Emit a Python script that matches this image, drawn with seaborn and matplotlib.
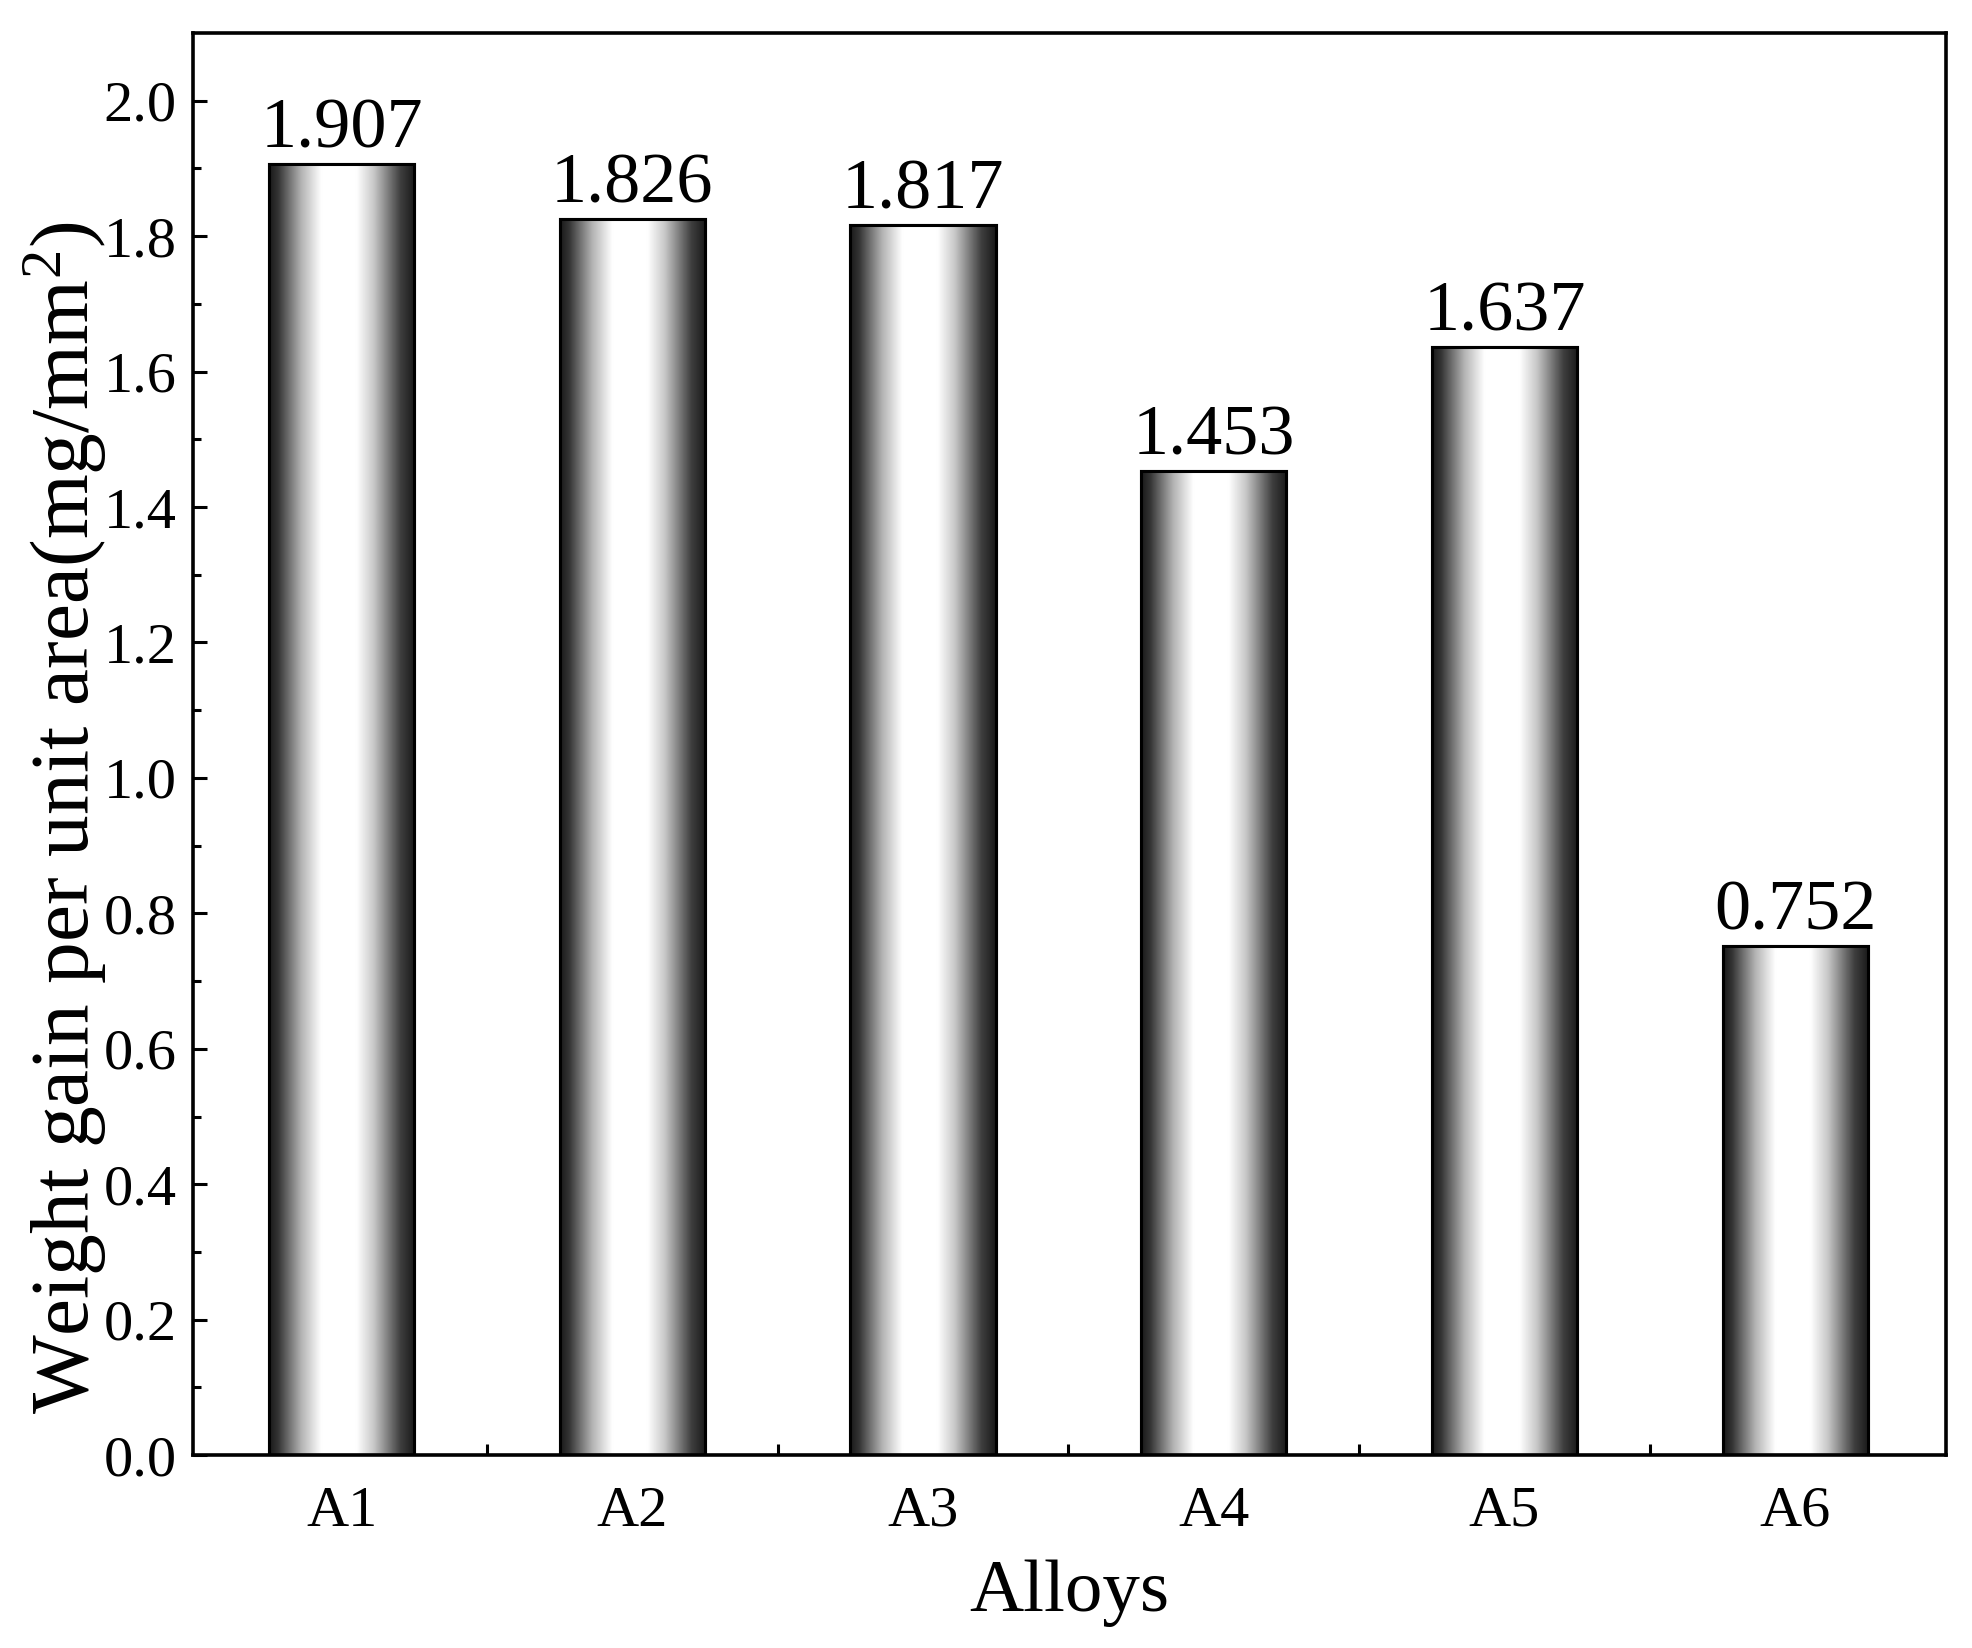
import numpy as np
import matplotlib as mpl
mpl.use("Agg")
import matplotlib.pyplot as plt
import seaborn as sns
import pandas as pd

# data
alloys = ["A1", "A2", "A3", "A4", "A5", "A6"]
weight_gain = [1.907, 1.826, 1.817, 1.453, 1.637, 0.752]

sns.set_style("ticks")
plt.rcParams["font.family"] = ["Liberation Serif", "DejaVu Serif"]
plt.rcParams["mathtext.default"] = "regular"
plt.rcParams["text.color"] = "black"
plt.rcParams["axes.labelcolor"] = "black"
plt.rcParams["xtick.color"] = "black"
plt.rcParams["ytick.color"] = "black"

df = pd.DataFrame({"alloy": alloys, "gain": weight_gain})

fig = plt.figure(figsize=(19.72, 16.48), dpi=100)
ax = fig.add_axes([0.098, 0.117, 0.889, 0.863])

sns.barplot(data=df, x="alloy", y="gain", order=alloys, color="white",
            width=0.5, edgecolor="black", linewidth=2.2, saturation=1, ax=ax)

# metallic gradient fill clipped to each bar
t = np.linspace(0, 1, 256)
profile = np.interp(t, [0, 0.06, 0.22, 0.36, 0.6, 0.72, 0.9, 1.0],
                    [0.1, 0.2, 0.7, 1.0, 1.0, 0.78, 0.25, 0.1])
grad = profile[np.newaxis, :]
for p in ax.patches:
    x0, y0 = p.get_x(), p.get_y()
    w, h = p.get_width(), p.get_height()
    im = ax.imshow(grad, extent=[x0, x0 + w, y0, y0 + h], aspect="auto",
                   cmap="gray", vmin=0, vmax=1, zorder=p.get_zorder() + 0.1,
                   interpolation="bicubic")
    im.set_clip_path(p)
    # redraw outline on top
    ax.add_patch(mpl.patches.Rectangle((x0, y0), w, h, fill=False,
                                       edgecolor="black", linewidth=2.2,
                                       zorder=p.get_zorder() + 0.2))

ax.bar_label(ax.containers[0], fmt="%.3f", padding=1, fontsize=52, color="black")

ax.set_xlim(-0.51, 5.52)
ax.set_ylim(0, 2.1)
ax.set_yticks(np.arange(0, 2.01, 0.2))
ax.set_yticks(np.arange(0, 2.1, 0.1), minor=True)
ax.yaxis.set_major_formatter(mpl.ticker.FormatStrFormatter("%.1f"))

# category labels without ticks, ticks between categories
ax.set_xticks(np.arange(len(alloys)))
ax.set_xticklabels(alloys)
ax.tick_params(axis="x", which="major", length=0, pad=22, labelsize=42)
ax.set_xticks(np.arange(0.5, len(alloys) - 1, 1.0), minor=True)
ax.tick_params(axis="x", which="minor", direction="in", length=8, width=2.2)
ax.tick_params(axis="y", which="major", direction="in", length=10, width=2.2,
               pad=12, labelsize=42)
ax.tick_params(axis="y", which="minor", direction="in", length=6, width=2.2)

for s in ax.spines.values():
    s.set_visible(True)
    s.set_linewidth(2.6)
    s.set_color("black")

ax.set_xlabel("Alloys", fontsize=54, labelpad=16)
ax.set_ylabel("Weight gain per unit area(mg/mm$^{2}$)", fontsize=60, va="center")
ax.yaxis.set_label_coords(-0.073, 0.448)

fig.savefig("out.png", dpi=100, facecolor="white")
